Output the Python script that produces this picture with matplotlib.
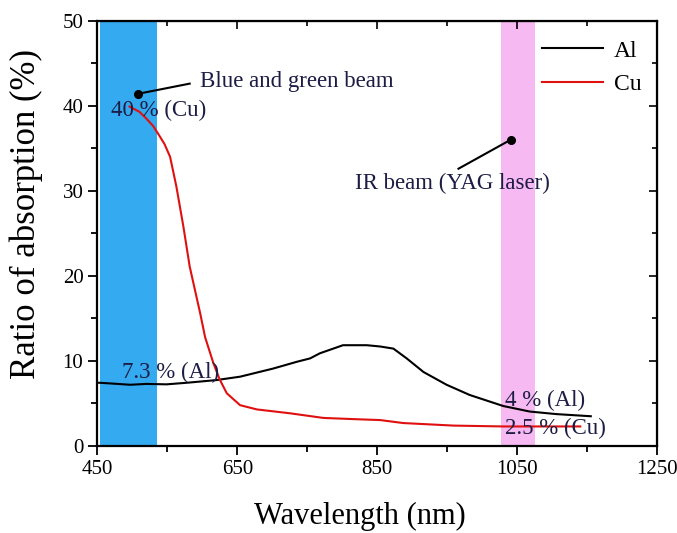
import numpy as np
import matplotlib.pyplot as plt
from matplotlib.ticker import FixedLocator

# Absorption curves
al_nm = [450, 470, 497, 520, 549, 580, 620, 654, 701, 735, 754, 768, 801, 835, 854,
         873, 892, 916, 949, 982, 1030, 1068, 1106, 1155]
al_val = [7.45, 7.35, 7.2, 7.3, 7.25, 7.45, 7.75, 8.15, 9.1, 9.9, 10.3, 10.9, 11.85, 11.85,
          11.7, 11.45, 10.3, 8.7, 7.2, 6.0, 4.7, 4.05, 3.75, 3.5]

cu_nm = [496, 510, 520, 530, 537, 546, 554, 563, 573, 582, 597, 604, 616, 625, 635, 654,
         678, 725, 773, 820, 854, 887, 959, 1030, 1106, 1140]
cu_val = [39.9, 39.3, 38.5, 37.6, 36.7, 35.5, 34.0, 30.5, 25.8, 21.1, 15.6, 12.8, 9.7, 7.8,
          6.2, 4.8, 4.3, 3.85, 3.3, 3.15, 3.05, 2.7, 2.4, 2.3, 2.3, 2.3]

blue_band = (454, 536)
ir_band = (1027, 1076)

x_major = [450, 650, 850, 1050, 1250]
x_minor = [550, 750, 950, 1150]
y_major = [0, 10, 20, 30, 40, 50]
y_minor = [5, 15, 25, 35, 45]

plt.rcParams['font.family'] = ['Liberation Serif', 'DejaVu Serif']
txt_col = '#1c1c44'

fig = plt.figure(figsize=(6.77, 5.33), dpi=100)
ax = fig.add_axes([0.1437, 0.1632, 0.8272, 0.798])

ax.axvspan(*blue_band, color='#34aaf0', lw=0, zorder=0)
ax.axvspan(*ir_band, color='#f6b9f2', lw=0, zorder=0)

ax.plot(al_nm, al_val, color='black', lw=1.5, label='Al')
ax.plot(cu_nm, cu_val, color='#e01010', lw=1.5, label='Cu')

ax.set_xlim(450, 1250)
ax.set_ylim(0, 50)
ax.xaxis.set_major_locator(FixedLocator(x_major))
ax.xaxis.set_minor_locator(FixedLocator(x_minor))
ax.yaxis.set_major_locator(FixedLocator(y_major))
ax.yaxis.set_minor_locator(FixedLocator(y_minor))

ax.tick_params(axis='both', which='major', direction='out', length=6.5, width=1.3,
               labelsize=15, top=False, right=False)
ax.tick_params(axis='both', which='minor', direction='out', length=4, width=1.3,
               top=False, right=False)
for s in ax.spines.values():
    s.set_linewidth(1.6)

# inward ticks on the top and right frame
sec_x = ax.secondary_xaxis('top')
sec_x.xaxis.set_major_locator(FixedLocator(x_major))
sec_x.xaxis.set_minor_locator(FixedLocator(x_minor))
sec_x.tick_params(which='major', direction='in', length=6, width=1.2, labeltop=False)
sec_x.tick_params(which='minor', direction='in', length=3.5, width=1.2)
sec_x.set_xticklabels([])
sec_y = ax.secondary_yaxis('right')
sec_y.yaxis.set_major_locator(FixedLocator(y_major))
sec_y.yaxis.set_minor_locator(FixedLocator(y_minor))
sec_y.tick_params(which='major', direction='in', length=6, width=1.2)
sec_y.tick_params(which='minor', direction='in', length=3.5, width=1.2)
sec_y.set_yticklabels([])

ax.set_xlabel('Wavelength (nm)', fontsize=22)
ax.xaxis.set_label_coords(0.469, -0.132)
ax.set_ylabel('Ratio of absorption (%)', fontsize=25)
ax.yaxis.set_label_coords(-0.097, 0.545)

ax.legend(loc='upper right', frameon=False, fontsize=17, handlelength=2.6,
          handletextpad=0.45, labelspacing=0.5,
          bbox_to_anchor=(1.014, 1.01), borderaxespad=0.6)

# annotations
ax.plot([508, 582], [41.4, 42.6], color='black', lw=1.5)
ax.plot([508], [41.4], 'o', color='black', ms=5.5)
ax.text(597, 42.8, 'Blue and green beam', fontsize=16.5, color=txt_col, va='center')

ax.plot([1040.5, 966], [36.0, 32.6], color='black', lw=1.5)
ax.plot([1040.5], [36.0], 'o', color='black', ms=5.5)
ax.text(958, 30.9, 'IR beam (YAG laser)', fontsize=16.5, color=txt_col,
        ha='center', va='center')

ax.text(469, 39.5, '40 % (Cu)', fontsize=16.5, color=txt_col, va='center')
ax.text(485, 8.6, '7.3 % (Al)', fontsize=16.5, color=txt_col, va='center')
ax.text(1032, 5.4, '4 % (Al)', fontsize=16.5, color=txt_col, va='center')
ax.text(1032, 2.1, '2.5 % (Cu)', fontsize=16.5, color=txt_col, va='center')

fig.savefig('out.png', dpi=100)
